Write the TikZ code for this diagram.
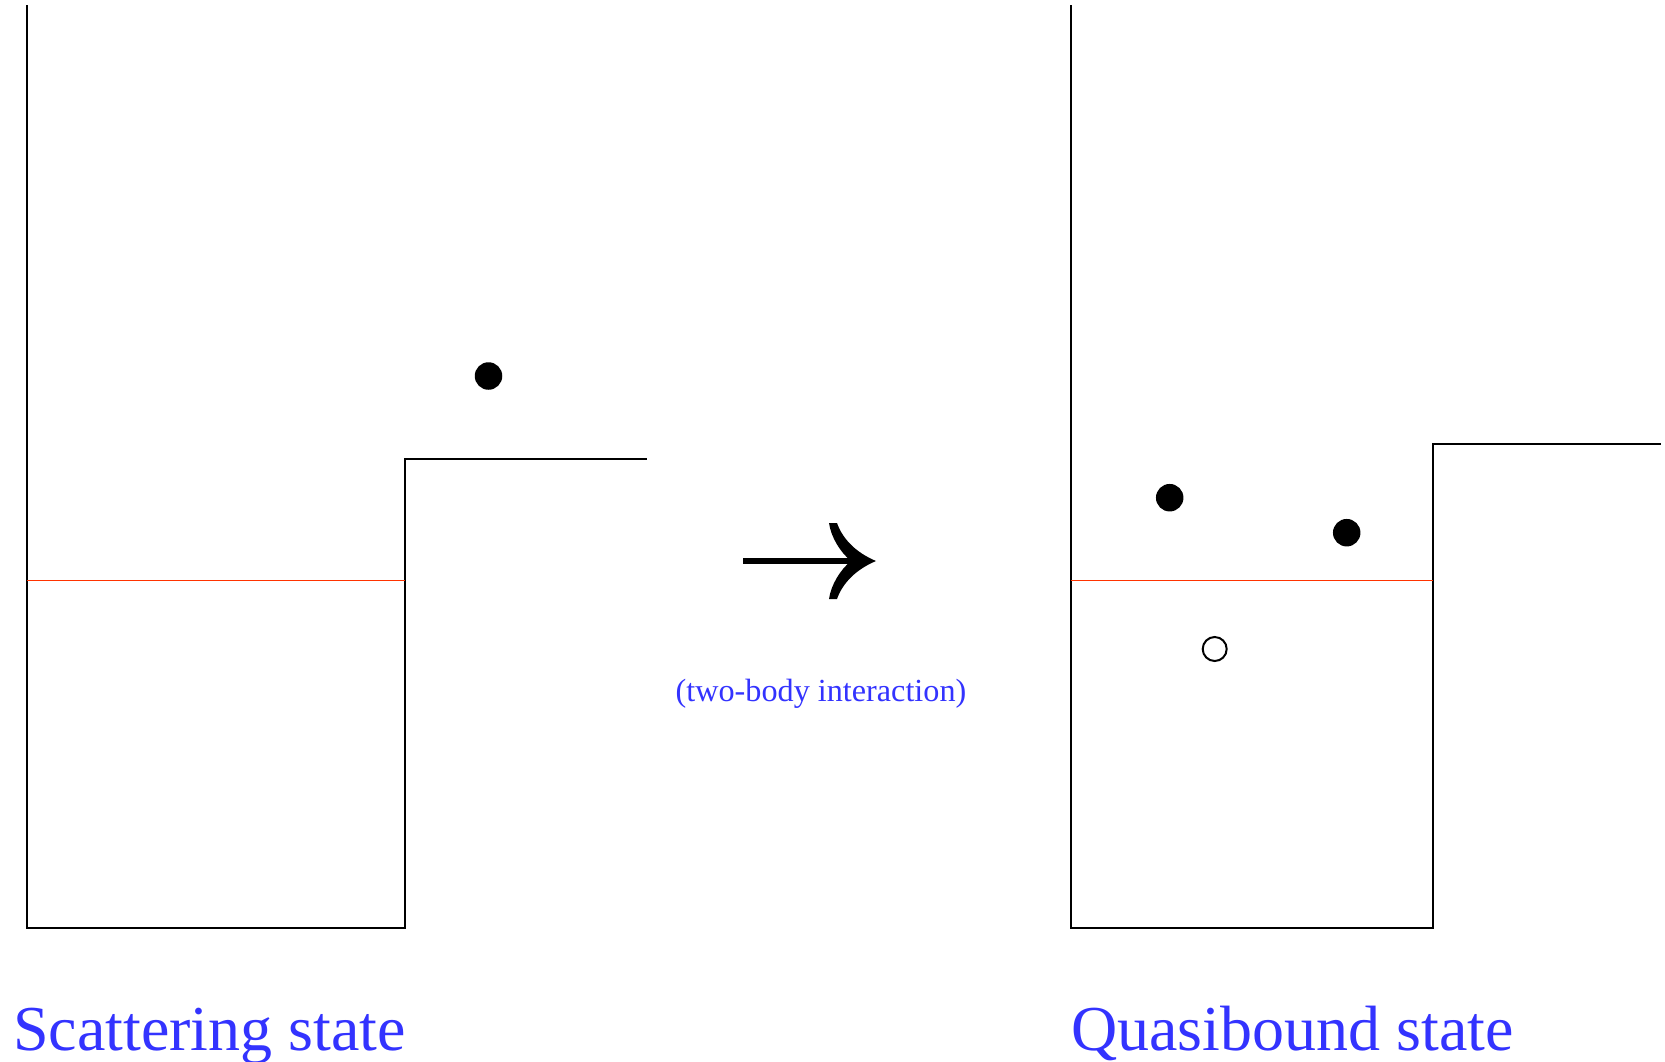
\documentclass[tikz,border=0pt]{standalone}
\usepackage{fontspec}
\setmainfont{Liberation Serif}
\definecolor{labelblue}{RGB}{51,51,255}
\definecolor{levelred}{RGB}{255,51,0}
\tikzset{
  wall/.style={line width=2pt, black},
  level/.style={line width=1.9pt, levelred},
  particle/.style={circle, fill=black, inner sep=0pt, minimum size=27.5pt},
  hole/.style={circle, draw=black, line width=2pt, fill=white, inner sep=0pt, minimum size=24pt},
  biglabel/.style={text=labelblue, inner sep=0pt, anchor=base west, font=\fontsize{64}{77}\selectfont},
  smalllabel/.style={text=labelblue, inner sep=0pt, anchor=base, font=\fontsize{32.2}{38}\selectfont},
}
\begin{document}
\begin{tikzpicture}[x=1pt,y=-1pt]
\useasboundingbox (0,0) rectangle (1665,1061);
\clip (0,0) rectangle (1665,1061);
\fill[white] (0,0) rectangle (1665,1061);

% left panel: deep well with a low step on the right
\draw[wall] (27,5) -- (27,928) -- (404.5,928) -- (404.5,459) -- (647,459);
\draw[level] (27,580.5) -- (404.5,580.5);
\node[particle] (p0) at (488.5,376) {};

% right panel: well with a higher step
\draw[wall] (1070.5,5) -- (1070.5,928) -- (1432.5,928) -- (1432.5,444) -- (1661,444);
\draw[level] (1070.5,580.5) -- (1432.5,580.5);
\node[particle] (p1) at (1169.7,497.7) {};
\node[particle] (p2) at (1346.7,532.7) {};
\node[hole] (h1) at (1214.7,649) {};

% transition arrow
\fill (742.5,557.8) -- (858,557.8) -- (858,564.2) -- (742.5,564.2) -- cycle;
\fill (876,561) .. controls (857,553) and (843,540) .. (837,523)
      -- (829,523) .. controls (831,537) and (840,552) .. (851,561)
      .. controls (840,570) and (831,585) .. (829,599)
      -- (837,599) .. controls (843,582) and (857,569) .. (876,561) -- cycle;

% labels
\node[smalllabel] (t0) at (821,701) {(two-body interaction)};
\node[biglabel] (s0) at (13,1050) {Scattering state};
\node[biglabel] (s1) at (1071,1050) {Quasibound state};
\end{tikzpicture}
\end{document}
